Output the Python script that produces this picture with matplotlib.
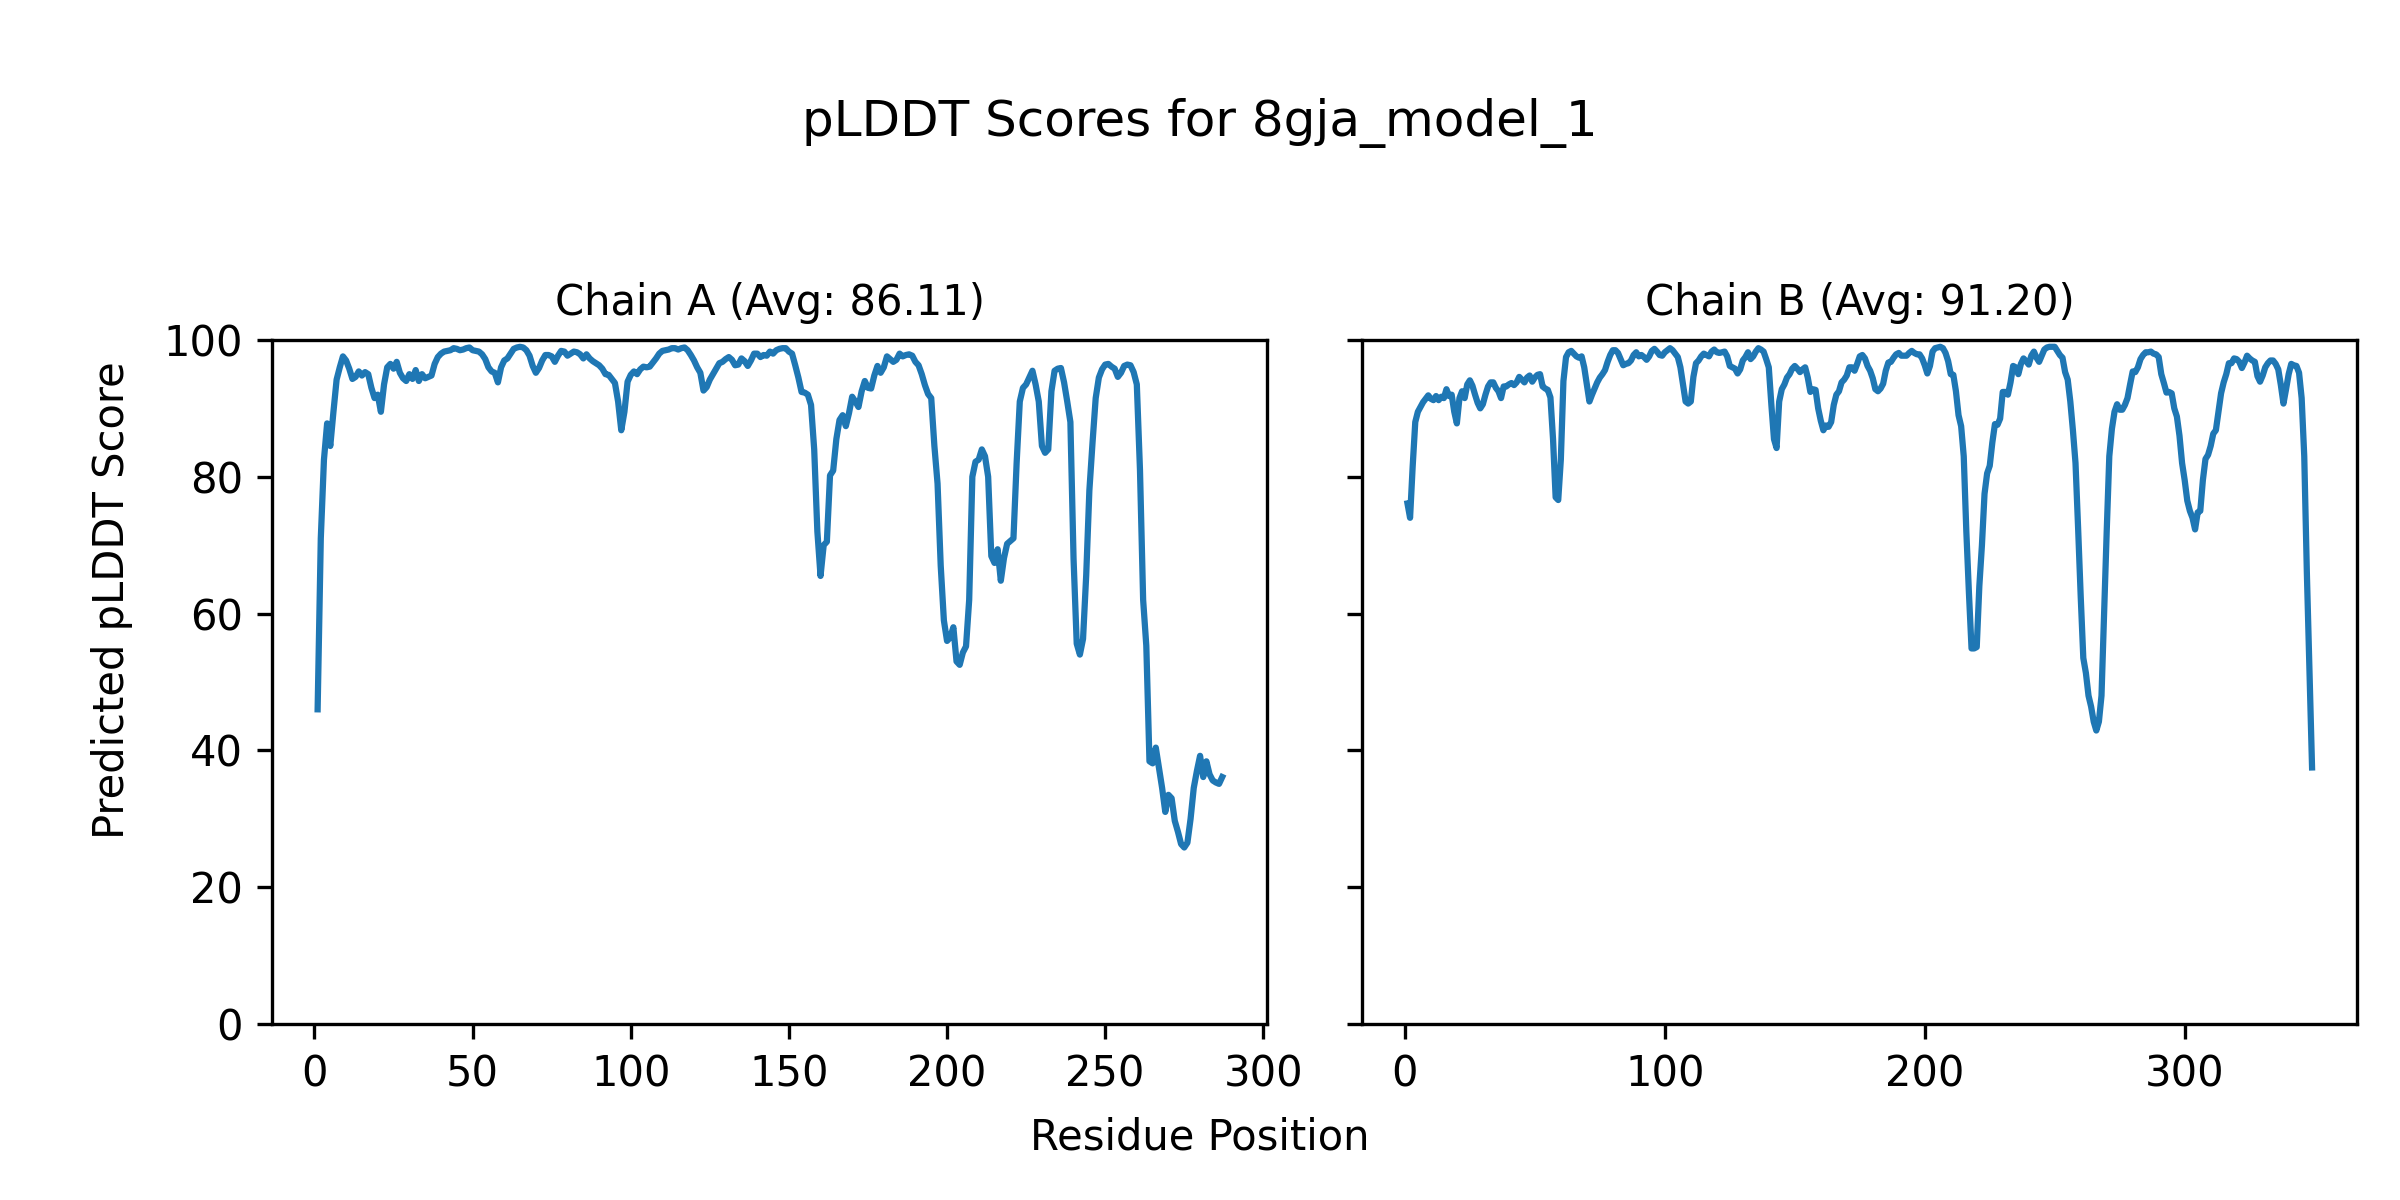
import numpy as np
import matplotlib
matplotlib.use("Agg")
import matplotlib.pyplot as plt

model_name = "8gja_model_1"

chain_a_scores = [
    46.0, 71.0, 82.5, 87.8, 84.5, 89.5, 94.2, 96.0, 97.6, 97.0,
    95.8, 94.3, 94.6, 95.4, 94.8, 95.3, 95.0, 93.0, 91.5, 92.0,
    89.5, 93.5, 96.0, 96.5, 95.8, 96.8, 95.2, 94.4, 94.0, 95.0,
    94.3, 95.6, 94.0, 95.0, 94.4, 94.6, 94.8, 96.5, 97.5, 98.0,
    98.3, 98.4, 98.5, 98.8, 98.7, 98.5, 98.6, 98.8, 98.9, 98.5,
    98.4, 98.3, 97.9, 97.2, 96.0, 95.4, 95.2, 93.8, 96.0, 97.0,
    97.3, 98.0, 98.7, 98.9, 99.0, 98.9, 98.5, 97.7, 96.2, 95.2,
    95.9, 97.0, 97.8, 97.8, 97.6, 96.8, 97.7, 98.4, 98.3, 97.7,
    98.0, 98.3, 98.2, 97.9, 97.3, 97.9, 97.3, 96.9, 96.6, 96.3,
    95.8, 95.0, 94.9, 94.3, 93.7, 91.0, 86.8, 89.5, 93.9, 94.9,
    95.4, 95.0, 95.7, 96.1, 96.0, 96.1, 96.7, 97.3, 98.0, 98.4,
    98.5, 98.6, 98.8, 98.8, 98.6, 98.8, 98.9, 98.5, 97.8, 97.0,
    96.0, 95.2, 92.6, 93.1, 94.2, 95.0, 95.8, 96.6, 96.8, 97.2,
    97.5, 97.1, 96.3, 96.4, 97.3, 96.9, 96.2, 97.0, 98.0, 98.0,
    97.5, 97.8, 97.7, 98.3, 98.0, 98.5, 98.7, 98.8, 98.8, 98.3,
    98.0, 96.3, 94.5, 92.4, 92.3, 92.0, 90.5, 84.0, 72.0, 65.5,
    70.0, 70.5, 80.2, 80.9, 85.5, 88.3, 89.0, 87.4, 89.3, 91.7,
    91.0, 90.2, 92.5, 94.0, 93.0, 92.9, 94.8, 96.2, 95.2, 96.0,
    97.6, 97.2, 96.8, 97.1, 98.0, 97.6, 97.8, 97.9, 97.7, 96.8,
    96.3, 95.0, 93.4, 92.1, 91.5, 84.5, 79.0, 67.0, 59.0, 56.0,
    56.5, 58.0, 53.0, 52.5, 54.3, 55.2, 62.0, 80.0, 82.2, 82.5,
    84.0, 83.0, 80.0, 68.4, 67.4, 69.4, 64.8, 68.1, 70.2, 70.6,
    71.0, 82.0, 91.0, 93.0, 93.5, 94.5, 95.5, 93.5, 91.0, 84.5,
    83.5, 84.0, 92.5, 95.5, 95.8, 95.9, 93.8, 91.0, 88.0, 68.0,
    55.6, 54.0, 56.3, 65.6, 78.0, 85.0, 91.5, 94.5, 95.7, 96.4,
    96.5, 96.1, 95.8, 94.6, 95.2, 96.2, 96.4, 96.3, 95.3, 93.5,
    81.0, 62.0, 55.3, 38.4, 38.1, 40.4, 37.5, 34.5, 31.0, 33.5,
    33.0, 29.7, 28.1, 26.3, 25.8, 26.5, 30.0, 34.5, 37.0, 39.2,
    36.1, 38.4, 36.5, 35.6, 35.3, 35.1, 36.1,
]

chain_b_scores = [
    76.1, 74.0, 81.5, 88.0, 89.5, 90.2, 90.9, 91.4, 91.9, 91.4,
    91.2, 91.8, 91.2, 91.7, 91.5, 92.8, 91.8, 92.0, 89.5, 87.8,
    91.5, 92.5, 91.5, 93.5, 94.1, 93.3, 92.0, 90.8, 90.0, 90.6,
    92.0, 93.2, 93.8, 93.8, 93.0, 92.5, 91.5, 93.2, 93.2, 93.5,
    93.7, 93.4, 93.8, 94.6, 94.2, 93.8, 94.5, 94.8, 93.9, 94.5,
    94.9, 95.0, 93.2, 92.9, 92.7, 91.6, 85.5, 77.0, 76.6, 82.5,
    94.0, 97.5, 98.2, 98.4, 98.0, 97.6, 97.4, 97.6, 96.0, 93.5,
    91.0, 92.0, 92.9, 93.8, 94.5, 95.0, 95.6, 96.8, 97.8, 98.5,
    98.5, 98.1, 97.2, 96.3, 96.5, 96.6, 97.0, 97.8, 98.2, 97.6,
    97.8, 97.5, 97.1, 97.6, 98.4, 98.7, 98.3, 97.8, 97.7, 98.2,
    98.5, 98.8, 98.5, 98.0, 97.5, 96.0, 93.5, 91.0, 90.7, 91.0,
    94.6, 96.6, 97.0, 97.6, 98.0, 97.8, 97.6, 98.3, 98.6, 98.2,
    98.1, 98.2, 98.3, 97.6, 96.2, 96.0, 95.8, 95.1, 95.7, 97.0,
    97.5, 98.2, 97.2, 97.6, 98.3, 98.8, 98.6, 98.3, 97.2, 96.0,
    90.5, 85.5, 84.2, 91.0, 92.8, 93.5, 94.5, 95.0, 95.8, 96.2,
    95.8, 95.3, 95.7, 96.0, 94.5, 92.4, 92.8, 92.7, 90.0, 88.2,
    86.8, 87.5, 87.3, 88.0, 90.5, 92.0, 92.5, 93.8, 94.2, 94.8,
    96.0, 96.0, 95.5, 96.5, 97.6, 97.8, 97.3, 96.2, 95.5, 94.4,
    92.8, 92.5, 92.9, 93.6, 95.5, 96.7, 96.8, 97.4, 97.9, 98.1,
    97.7, 97.7, 97.7, 98.1, 98.4, 98.1, 97.9, 97.9, 97.3, 96.3,
    95.1, 96.2, 98.3, 98.8, 98.9, 99.0, 98.8, 98.1, 96.9, 95.0,
    94.9, 92.5, 89.0, 87.4, 83.0, 72.0, 63.0, 54.9, 54.9, 55.1,
    64.0, 70.0, 77.5, 80.5, 81.6, 85.0, 87.7, 87.6, 88.5, 92.4,
    92.4, 92.0, 93.8, 96.2, 96.0, 95.0, 96.5, 97.3, 96.9, 96.4,
    97.7, 98.3, 97.4, 96.8, 97.7, 98.6, 98.9, 99.0, 99.0, 99.0,
    98.4, 97.8, 97.4, 95.3, 94.2, 91.0, 86.8, 82.0, 72.5, 62.5,
    53.5, 51.3, 48.0, 46.4, 44.2, 42.9, 44.2, 48.0, 60.0, 72.0,
    83.0, 87.0, 89.5, 90.6, 89.8, 89.8, 90.5, 91.5, 93.5, 95.4,
    95.3, 96.0, 97.2, 97.8, 98.2, 98.2, 98.3, 98.0, 97.9, 97.5,
    95.0, 93.7, 92.3, 92.4, 92.2, 90.0, 88.8, 86.0, 82.0, 79.5,
    76.5, 75.0, 74.0, 72.3, 74.8, 75.0, 79.5, 82.6, 83.2, 84.5,
    86.3, 86.8, 89.5, 92.2, 93.8, 95.0, 96.6, 96.6, 97.3, 97.2,
    96.8, 95.9, 96.7, 97.7, 97.3, 97.0, 96.8, 94.7, 93.9, 94.8,
    96.0, 96.6, 97.0, 97.0, 96.5, 95.7, 93.4, 90.7, 92.8, 95.0,
    96.5, 96.3, 96.2, 95.2, 91.5, 83.0, 66.0, 52.0, 37.5,
]

chain_titles = ["Chain A (Avg: 86.11)", "Chain B (Avg: 91.20)"]
chain_scores = [chain_a_scores, chain_b_scores]
chain_xticks = [[0, 50, 100, 150, 200, 250, 300], [0, 100, 200, 300]]
y_ticks = [0, 20, 40, 60, 80, 100]

fig = plt.figure(figsize=(8, 4), dpi=300)
ax_a = fig.add_axes([0.1135, 0.1467, 0.4146, 0.57])
ax_b = fig.add_axes([0.5676, 0.1467, 0.4146, 0.57], sharey=ax_a)
axes = [ax_a, ax_b]

for ax, title, scores, xt in zip(axes, chain_titles, chain_scores, chain_xticks):
    pos = np.arange(1, len(scores) + 1)
    ax.plot(pos, scores, color="#1f77b4", linewidth=1.5)
    ax.set_title(title, fontsize=10)
    ax.set_xticks(xt)
    ax.tick_params(labelsize=10)

ax_a.set_ylim(0, 100)
ax_a.set_yticks(y_ticks)
plt.setp(ax_b.get_yticklabels(), visible=False)

fig.suptitle(f"pLDDT Scores for {model_name}", fontsize=12, y=0.918)
fig.text(0.5, 0.0525, "Residue Position", ha="center", va="center", fontsize=10)
fig.text(0.0465, 0.5, "Predicted pLDDT Score", ha="center", va="center",
         rotation=90, fontsize=10)

fig.savefig("out.png", dpi=300)
